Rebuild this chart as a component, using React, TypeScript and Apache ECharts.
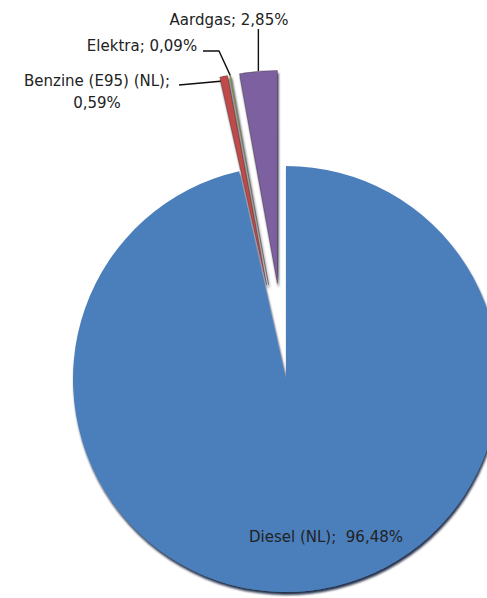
import React, { useEffect, useRef } from "react";
import * as echarts from "echarts";

const categories = ["Diesel (NL)", "Benzine (E95) (NL)", "Elektra", "Aardgas"];
const shares = [96.48, 0.59, 0.09, 2.85];
const colors = ["#4b7fbc", "#be4b48", "#98b954", "#7d60a0"];
const exploded = [false, true, true, true];

const fmt = (v: number) => v.toFixed(2).replace(".", ",") + "%";

const CX = 286;
const CY = 379;
const R = 213;
const OFFSET = 96;

export default function App() {
  const ref = useRef<HTMLDivElement>(null);
  useEffect(() => {
    if (!ref.current) return;
    const chart = echarts.init(ref.current, null, { renderer: "svg" });
    const total = shares.reduce((a, b) => a + b, 0);
    const mids: number[] = [];
    let acc = 0;
    shares.forEach((v) => {
      mids.push(((acc + v / 2) / total) * 2 * Math.PI);
      acc += v;
    });
    const centerOf = (i: number): [number, number] => {
      const off = exploded[i] ? OFFSET : 0;
      return [CX + off * Math.sin(mids[i]), CY - off * Math.cos(mids[i])];
    };
    const edgeOf = (i: number): [number, number] => {
      const c = centerOf(i);
      return [c[0] + R * Math.sin(mids[i]), c[1] - R * Math.cos(mids[i])];
    };

    const labelStyle: Record<number, any> = {
      0: { x: 326, y: 537, align: "center", verticalAlign: "middle" },
      1: { x: 97, y: 92, align: "center", verticalAlign: "middle", pts: [[223, 81], [179, 85]] },
      2: { x: 142, y: 46, align: "center", verticalAlign: "middle", pts: [[219, 51], [203, 51]] },
      3: { x: 229, y: 20, align: "center", verticalAlign: "middle", pts: [null, [0, 29]] },
    };

    const makeSeries = (vis: number) => ({
      type: "pie",
      center: centerOf(vis),
      radius: R,
      startAngle: 90,
      clockwise: true,
      avoidLabelOverlap: false,
      silent: true,
      emphasis: { disabled: true },
      label: {
        show: true,
        position: vis === 0 ? "inside" : "outside",
        fontFamily: "DejaVu Sans",
        fontSize: 15,
        color: "#222222",
        lineHeight: 22,
        formatter: (p: any) =>
          p.dataIndex === 1
            ? `${p.name};\n${fmt(p.value)}`
            : p.dataIndex === 0
            ? `${p.name};  ${fmt(p.value)}`
            : `${p.name}; ${fmt(p.value)}`,
      },
      labelLine: { show: vis !== 0, lineStyle: { color: "#111", width: 1.4 } },
      labelLayout: (params: any) => {
        if (params.dataIndex !== vis) return {};
        const s = labelStyle[vis];
        const out: any = { x: s.x, y: s.y, align: s.align, verticalAlign: s.verticalAlign };
        if (vis !== 0) {
          const e = edgeOf(vis);
          const p1 = s.pts[0] ? s.pts[0] : [e[0], (e[1] + s.pts[1][1]) / 2];
          const p2 = s.pts[1][0] === 0 ? [e[0], s.pts[1][1]] : s.pts[1];
          out.labelLinePoints = [e, p1, p2];
        }
        return out;
      },
      data: categories.map((name, i) => ({
        name,
        value: shares[i],
        itemStyle:
          i === vis
            ? {
                color: colors[i],
                borderColor: i === 0 ? "transparent" : "rgba(50,30,30,0.55)",
                borderWidth: i === 0 ? 0 : 0.6,
                shadowColor: "rgba(5,15,45,0.85)",
                shadowBlur: 2,
                shadowOffsetX: 1,
                shadowOffsetY: 3,
              }
            : { color: "rgba(0,0,0,0)", borderWidth: 0 },
        label: { show: i === vis },
        labelLine: { show: i === vis && vis !== 0 },
      })),
    });

    chart.setOption({
      animation: false,
      backgroundColor: "#ffffff",
      series: [0, 1, 2, 3].map((i) => makeSeries(i)),
    });
    return () => chart.dispose();
  }, []);
  return (
    <div
      ref={ref}
      style={{ position: "fixed", left: 0, top: 0, width: 487, height: 598 }}
    />
  );
}
